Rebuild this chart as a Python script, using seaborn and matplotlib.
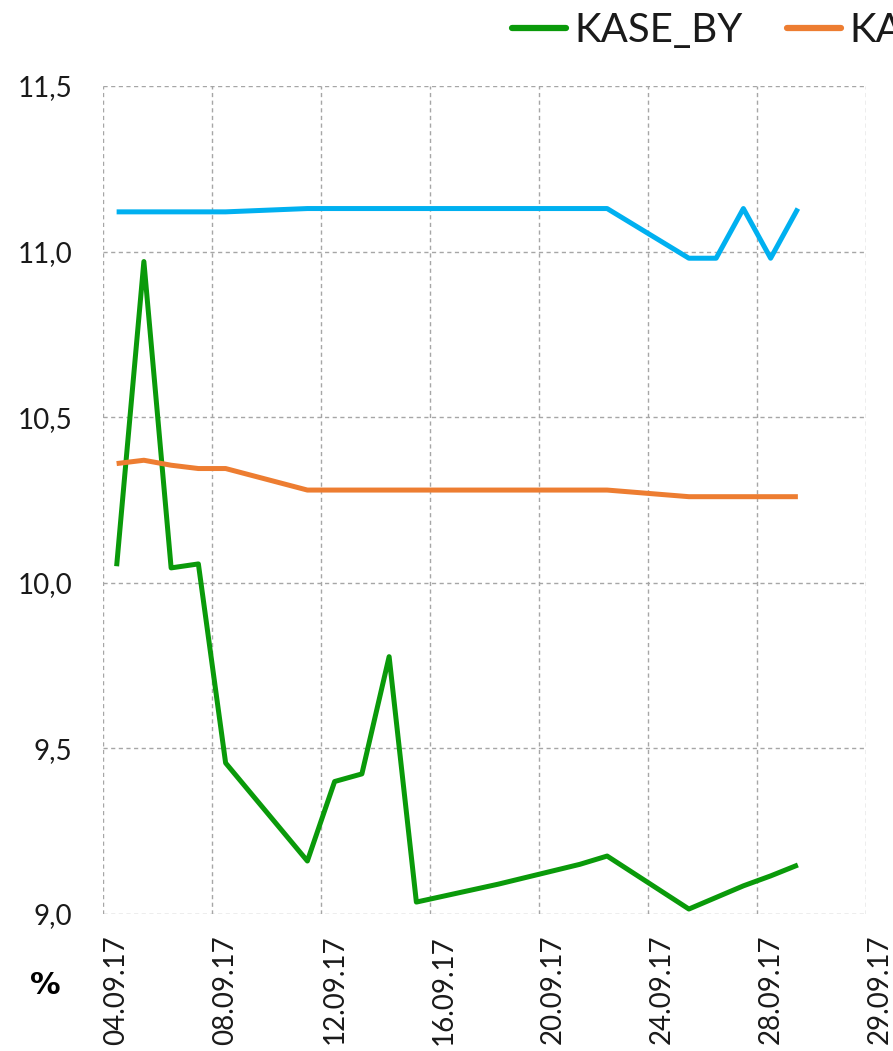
import pandas as pd
import seaborn as sns
import matplotlib.pyplot as plt
from matplotlib.transforms import ScaledTranslation

# trading days of September 2017
days = ["2017-09-04", "2017-09-05", "2017-09-06", "2017-09-07", "2017-09-08",
        "2017-09-11", "2017-09-12", "2017-09-13", "2017-09-14", "2017-09-15",
        "2017-09-18", "2017-09-19", "2017-09-20", "2017-09-21", "2017-09-22",
        "2017-09-25", "2017-09-26", "2017-09-27", "2017-09-28", "2017-09-29"]

kase_by = [10.05, 10.97, 10.045, 10.057, 9.456,
           9.16, 9.40, 9.423, 9.777, 9.036,
           9.09, 9.11, 9.13, 9.15, 9.175,
           9.015, 9.05, 9.085, 9.115, 9.148]
kase_bmy = [10.36, 10.37, 10.355, 10.345, 10.345,
            10.28, 10.28, 10.28, 10.28, 10.28,
            10.28, 10.28, 10.28, 10.28, 10.28,
            10.26, 10.26, 10.26, 10.26, 10.26]
kase_bay = [11.12, 11.12, 11.12, 11.12, 11.12,
            11.13, 11.13, 11.13, 11.13, 11.13,
            11.13, 11.13, 11.13, 11.13, 11.13,
            10.98, 10.98, 11.13, 10.98, 11.13]

series_names = ["KASE_BY", "KASE_BMY", "KASE_BAY"]
series_colors = ["#0A9A0A", "#ED7D31", "#00B0F0"]

x_tick_labels = ["04.09.17", "08.09.17", "12.09.17", "16.09.17",
                 "20.09.17", "24.09.17", "28.09.17", "29.09.17"]
y_ticks = [9.0, 9.5, 10.0, 10.5, 11.0, 11.5]
y_tick_labels = ["9,0", "9,5", "10,0", "10,5", "11,0", "11,5"]

df = pd.DataFrame({
    "date": pd.to_datetime(days * 3),
    "value": kase_by + kase_bmy + kase_bay,
    "index": [n for n in series_names for _ in days],
})

sns.set_style("white")
plt.rcParams["font.family"] = ["Lato", "DejaVu Sans"]
TXT = "#1a1a1a"

fig = plt.figure(figsize=(8.93, 10.51), dpi=100)
ax = fig.add_axes([103 / 893, 1 - 914 / 1051, 763 / 893, 828 / 1051])

sns.lineplot(data=df, x="date", y="value", hue="index", hue_order=series_names,
             palette=series_colors, linewidth=3.6, ax=ax, legend=False,
             solid_capstyle="butt")

# date axis: gridlines at day boundaries, labels centred on the day
start = pd.Timestamp("2017-09-03 12:00")
ticks = [start + pd.Timedelta(days=4 * i) for i in range(8)]
ax.set_xlim(ticks[0], ticks[-1])
ax.set_xticks(ticks)
ax.set_ylim(9.0, 11.5)
ax.set_yticks(y_ticks)

ax.tick_params(axis="x", length=0, pad=15)
ax.tick_params(axis="y", length=0, pad=22)

ax.set_xticklabels(x_tick_labels, rotation=90, fontsize=20, fontweight="normal",
                   color=TXT, va="top", ha="center")
ax.set_yticklabels(y_tick_labels, fontsize=20, fontweight="normal", color=TXT)
shift = ScaledTranslation(0.136, 0, fig.dpi_scale_trans)
for lab in ax.get_xticklabels():
    lab.set_transform(lab.get_transform() + shift)

ax.grid(True, color="#A6A6A6", linestyle=(0, (3, 2.5)), linewidth=1.0)
for s in ax.spines.values():
    s.set_visible(False)
ax.set_xlabel("")
ax.set_ylabel("")

fig.text(45 / 893, 1 - 985 / 1051, "%", fontsize=22, fontweight="bold",
         ha="center", va="center", family="DejaVu Sans", color="black")

handles = [plt.Line2D([], [], color=c, linewidth=4.5, solid_capstyle="round")
           for c in series_colors]
fig.legend(handles, series_names, loc="center left",
           bbox_to_anchor=(512 / 893, 1 - 31 / 1051), ncol=3, frameon=False,
           prop={"weight": "normal", "size": 29}, labelcolor=TXT,
           handlelength=1.35, handletextpad=0.2, columnspacing=1.1,
           borderaxespad=0, borderpad=0)

fig.savefig("out.png", dpi=100)
